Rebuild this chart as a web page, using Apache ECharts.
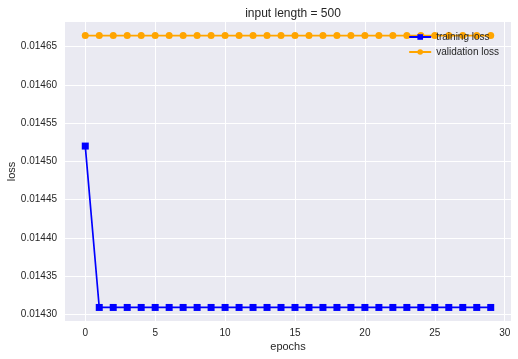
<!DOCTYPE html>
<html>
<head>
<meta charset="utf-8">
<script src="https://cdn.jsdelivr.net/npm/echarts@6/dist/echarts.min.js"></script>
<style>
  html, body { margin: 0; padding: 0; background: #fff; }
  #chart { width: 518px; height: 359px; }
</style>
</head>
<body>
<div id="chart"></div>
<script>
// data
const epochs = [];
for (let i = 0; i < 30; i++) epochs.push(i);
const trainingLoss = [0.014520, 0.014309, 0.014309, 0.014309, 0.014309, 0.014309, 0.014309, 0.014309, 0.014309, 0.014309,
  0.014309, 0.014309, 0.014309, 0.014309, 0.014309, 0.014309, 0.014309, 0.014309, 0.014309, 0.014309,
  0.014309, 0.014309, 0.014309, 0.014309, 0.014309, 0.014309, 0.014309, 0.014309, 0.014309, 0.014309];
const validationLoss = [0.0146644, 0.0146644, 0.0146644, 0.0146644, 0.0146644, 0.0146644, 0.0146644, 0.0146644, 0.0146644, 0.0146644,
  0.0146644, 0.0146644, 0.0146644, 0.0146644, 0.0146644, 0.0146644, 0.0146644, 0.0146644, 0.0146644, 0.0146644,
  0.0146644, 0.0146644, 0.0146644, 0.0146644, 0.0146644, 0.0146644, 0.0146644, 0.0146644, 0.0146644, 0.0146644];
const xTicks = [0, 5, 10, 15, 20, 25, 30];
const yTicks = [0.01430, 0.01435, 0.01440, 0.01445, 0.01450, 0.01455, 0.01460, 0.01465];

const font = 'Liberation Sans';
const chart = echarts.init(document.getElementById('chart'));

const option = {
  animation: false,
  backgroundColor: '#fff',
  title: {
    text: 'input length = 500',
    left: 288, top: 3, textAlign: 'center',
    textStyle: { fontFamily: font, fontSize: 12, fontWeight: 'normal', color: '#262626' }
  },
  legend: {
    orient: 'vertical',
    right: 14, top: 27,
    itemWidth: 22, itemHeight: 7, itemGap: 5,
    textStyle: { fontFamily: font, fontSize: 10, color: '#262626' },
    data: ['training loss', 'validation loss']
  },
  grid: { left: 65, right: 7, top: 22, bottom: 38, backgroundColor: '#EAEAF2', show: true, borderWidth: 0,
    outerBoundsMode: 'none', containLabel: false },
  xAxis: {
    type: 'value',
    min: -1.45, max: 30.45,
    name: 'epochs', nameLocation: 'middle', nameGap: 20, nameMoveOverlap: false,
    nameTextStyle: { fontFamily: font, fontSize: 11, color: '#262626' },
    axisLine: { show: false },
    axisTick: { show: false, customValues: xTicks },
    axisLabel: { customValues: xTicks, fontFamily: font, fontSize: 10, color: '#262626', margin: 7 },
    splitLine: { show: true, lineStyle: { color: '#fff', width: 1 } }
  },
  yAxis: {
    type: 'value',
    min: 0.0142913, max: 0.0146822,
    name: 'loss', nameLocation: 'middle', nameGap: 48, nameMoveOverlap: false,
    nameTextStyle: { fontFamily: font, fontSize: 11, color: '#262626' },
    axisLine: { show: false },
    axisTick: { show: false, customValues: yTicks },
    axisLabel: { customValues: yTicks, fontFamily: font, fontSize: 10, color: '#262626', margin: 8,
      formatter: v => v.toFixed(5) },
    splitLine: { show: true, lineStyle: { color: '#fff', width: 1 } }
  },
  series: [
    {
      name: 'training loss', type: 'line',
      data: epochs.map((e, i) => [e, trainingLoss[i]]),
      symbol: 'rect', symbolSize: 7,
      itemStyle: { color: '#0000FF' },
      lineStyle: { color: '#0000FF', width: 1.7 }
    },
    {
      name: 'validation loss', type: 'line',
      data: epochs.map((e, i) => [e, validationLoss[i]]),
      symbol: 'circle', symbolSize: 7,
      itemStyle: { color: '#FFA500' },
      lineStyle: { color: '#FFA500', width: 1.7 }
    }
  ]
};
chart.setOption(option);
</script>
</body>
</html>
